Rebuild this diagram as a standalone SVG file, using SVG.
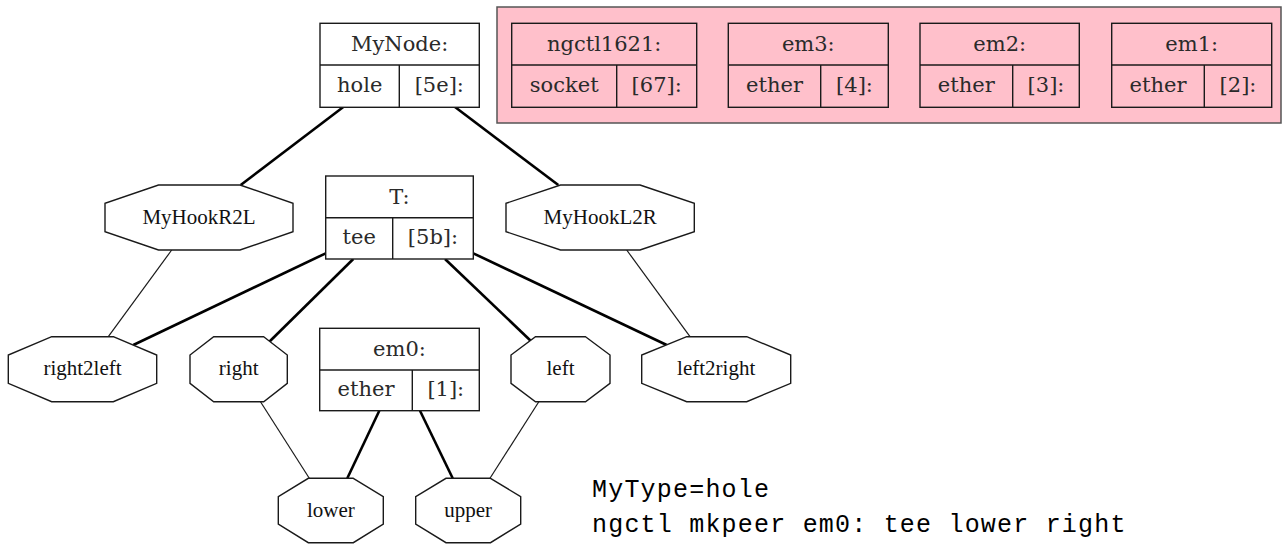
<svg xmlns="http://www.w3.org/2000/svg" width="1284" height="545" viewBox="0 0 1284 545">
  <style>
    .rec { fill: #ffffff; stroke: #1a1a1a; stroke-width: 1.4; }
    .rec.pk { fill: #ffc0cb; }
    .div { stroke: #1a1a1a; stroke-width: 1.4; fill: none; }
    .oct { fill: #ffffff; stroke: #1a1a1a; stroke-width: 1.4; }
    .rt { font-family: "DejaVu Serif", serif; font-size: 21px; fill: #2a2a2a; text-anchor: middle; }
    .ot { font-family: "Liberation Serif", serif; font-size: 21px; fill: #111; text-anchor: middle; }
    .thick { stroke: #000; stroke-width: 2.6; fill: none; }
    .thin { stroke: #1a1a1a; stroke-width: 1.2; fill: none; }
    .cmd { font-family: "Liberation Mono", monospace; font-size: 25px; letter-spacing: 1.2px; fill: #000; }
  </style>

  <!-- cluster of socket/ether nodes -->
  <rect x="497" y="7" width="784" height="116" fill="#ffc0cb" stroke="#555" stroke-width="1.5"/>

  <!-- connectors -->
  <g id="edges">
    <line class="thick" x1="343.3" y1="107" x2="240.7" y2="185"/>
    <line class="thick" x1="455" y1="107" x2="558.3" y2="185"/>
    <line class="thin" x1="171.7" y1="250" x2="108.3" y2="336.7"/>
    <line class="thin" x1="626.7" y1="250" x2="690" y2="336.7"/>
    <line class="thick" x1="325.7" y1="253.3" x2="133.3" y2="345"/>
    <line class="thick" x1="353.3" y1="259" x2="268.3" y2="342.7"/>
    <line class="thick" x1="445" y1="259" x2="531.7" y2="341.7"/>
    <line class="thick" x1="473.3" y1="253.3" x2="666.7" y2="345"/>
    <line class="thin" x1="260" y1="401" x2="309.3" y2="478.3"/>
    <line class="thick" x1="379.3" y1="410.7" x2="347.3" y2="478.3"/>
    <line class="thick" x1="420" y1="410.7" x2="452.7" y2="478.3"/>
    <line class="thin" x1="539.3" y1="401" x2="490" y2="478.3"/>
  </g>

  <!-- record nodes -->
  <g id="MyNode">
    <rect class="rec" x="320" y="23.3" width="159.3" height="84"/>
    <line class="div" x1="320" y1="65" x2="479.3" y2="65"/>
    <line class="div" x1="399.3" y1="65" x2="399.3" y2="107.3"/>
    <text class="rt" x="399.6" y="51">MyNode:</text>
    <text class="rt" x="359.7" y="92">hole</text>
    <text class="rt" x="439.3" y="92">[5e]:</text>
  </g>

  <g id="ngctl1621">
    <rect class="rec pk" x="511.7" y="23.3" width="185" height="84"/>
    <line class="div" x1="511.7" y1="65" x2="696.7" y2="65"/>
    <line class="div" x1="616.7" y1="65" x2="616.7" y2="107.3"/>
    <text class="rt" x="604.2" y="51">ngctl1621:</text>
    <text class="rt" x="564.2" y="92">socket</text>
    <text class="rt" x="656.7" y="92">[67]:</text>
  </g>

  <g id="em3">
    <rect class="rec pk" x="728.3" y="23.3" width="160" height="84"/>
    <line class="div" x1="728.3" y1="65" x2="888.3" y2="65"/>
    <line class="div" x1="820.7" y1="65" x2="820.7" y2="107.3"/>
    <text class="rt" x="808.3" y="51">em3:</text>
    <text class="rt" x="774.5" y="92">ether</text>
    <text class="rt" x="854.5" y="92">[4]:</text>
  </g>

  <g id="em2">
    <rect class="rec pk" x="920" y="23.3" width="159.3" height="84"/>
    <line class="div" x1="920" y1="65" x2="1079.3" y2="65"/>
    <line class="div" x1="1012.7" y1="65" x2="1012.7" y2="107.3"/>
    <text class="rt" x="999.7" y="51">em2:</text>
    <text class="rt" x="966.3" y="92">ether</text>
    <text class="rt" x="1046" y="92">[3]:</text>
  </g>

  <g id="em1">
    <rect class="rec pk" x="1111.7" y="23.3" width="160" height="84"/>
    <line class="div" x1="1111.7" y1="65" x2="1271.7" y2="65"/>
    <line class="div" x1="1204.3" y1="65" x2="1204.3" y2="107.3"/>
    <text class="rt" x="1191.7" y="51">em1:</text>
    <text class="rt" x="1158" y="92">ether</text>
    <text class="rt" x="1238" y="92">[2]:</text>
  </g>

  <g id="T">
    <rect class="rec" x="325.7" y="176" width="147.6" height="83"/>
    <line class="div" x1="325.7" y1="217.7" x2="473.3" y2="217.7"/>
    <line class="div" x1="392.7" y1="217.7" x2="392.7" y2="259"/>
    <text class="rt" x="399.5" y="204">T:</text>
    <text class="rt" x="359.2" y="244">tee</text>
    <text class="rt" x="433" y="244">[5b]:</text>
  </g>

  <g id="em0">
    <rect class="rec" x="319.7" y="328.3" width="159.6" height="82.4"/>
    <line class="div" x1="319.7" y1="370" x2="479.3" y2="370"/>
    <line class="div" x1="412.3" y1="370" x2="412.3" y2="410.7"/>
    <text class="rt" x="399.5" y="356">em0:</text>
    <text class="rt" x="366" y="396">ether</text>
    <text class="rt" x="445.8" y="396">[1]:</text>
  </g>

  <!-- hook nodes (octagons) -->
  <g id="MyHookR2L">
    <polygon class="oct" points="240,185 293,203.3 293,231.7 240,250 158.5,250 105,231.7 105,203.3 158.5,185"/>
    <text class="ot" x="199" y="223.5">MyHookR2L</text>
  </g>

  <g id="MyHookL2R">
    <polygon class="oct" points="640,185 694.3,203.3 694.3,231.7 640,250 560.5,250 506,231.7 506,203.3 560.5,185"/>
    <text class="ot" x="600.2" y="223.5">MyHookL2R</text>
  </g>

  <g id="right2left">
    <polygon class="oct" points="113.3,336.7 156.7,355 156.7,383.3 113.3,401.7 51.7,401.7 8.3,383.3 8.3,355 51.7,336.7"/>
    <text class="ot" x="82.5" y="374.5">right2left</text>
  </g>

  <g id="right">
    <polygon class="oct" points="263.7,336.7 287.3,355 287.3,383.3 263.7,401.7 213.7,401.7 190,383.3 190,355 213.7,336.7"/>
    <text class="ot" x="238.7" y="374.5">right</text>
  </g>

  <g id="left">
    <polygon class="oct" points="585.5,336.7 610,355 610,383.3 585.5,401.7 535.5,401.7 511,383.3 511,355 535.5,336.7"/>
    <text class="ot" x="560.5" y="374.5">left</text>
  </g>

  <g id="left2right">
    <polygon class="oct" points="746.7,336.7 790.7,355 790.7,383.3 746.7,401.7 686.7,401.7 641.7,383.3 641.7,355 686.7,336.7"/>
    <text class="ot" x="716.2" y="374.5">left2right</text>
  </g>

  <g id="lower">
    <polygon class="oct" points="353.3,478.3 383.3,496.7 383.3,524 353.3,542.7 308.3,542.7 278.3,524 278.3,496.7 308.3,478.3"/>
    <text class="ot" x="330.8" y="516.5">lower</text>
  </g>

  <g id="upper">
    <polygon class="oct" points="490.5,478.3 520.7,496.7 520.7,524 490.5,542.7 446,542.7 415.7,524 415.7,496.7 446,478.3"/>
    <text class="ot" x="468.2" y="516.5">upper</text>
  </g>

  <!-- command note -->
  <text class="cmd" x="592" y="496.5">MyType=hole</text>
  <text class="cmd" x="592" y="531.5">ngctl mkpeer em0: tee lower right</text>
</svg>
